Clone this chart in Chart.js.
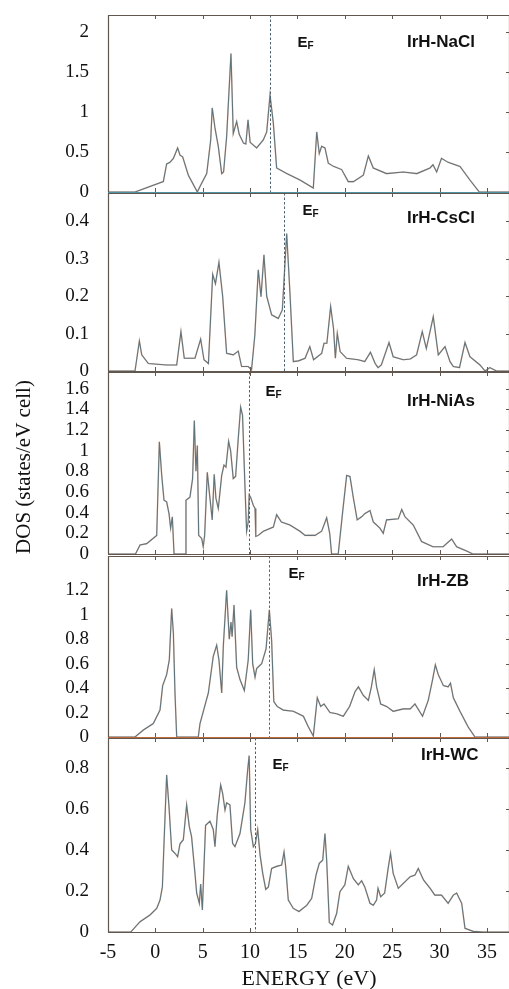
<!DOCTYPE html>
<html>
<head>
<meta charset="utf-8">
<script src="https://cdn.jsdelivr.net/npm/chart.js@4.4.1/dist/chart.umd.min.js"></script>
<style>
  html, body { margin: 0; padding: 0; background: #fff; overflow: hidden; width: 509px; height: 989px; }
  canvas { position: absolute; left: 0; }
</style>
</head>
<body>
<canvas id="c1"></canvas>
<canvas id="c2"></canvas>
<canvas id="c3"></canvas>
<canvas id="c4"></canvas>
<canvas id="c5"></canvas>
<script>
// ─────────────────────────────────────────────
//  Data (energy in eV, DOS in states/eV cell)
// ─────────────────────────────────────────────
const X_TICKS = [-5, 0, 5, 10, 15, 20, 25, 30, 35];

const NACL_E = [
  -5, -2.15, 0.84, 1.19, 1.54, 1.9, 2.35, 2.6, 2.88, 3.48,
  4.43, 4.71, 5.42, 5.84, 6.0, 6.29, 6.64, 7.0, 7.2, 7.52,
  7.98, 8.22, 8.58, 8.85, 9.3, 9.55, 9.78, 10.0, 10.69, 11.39,
  11.75, 12.1, 12.45, 12.8, 13.86, 15.26, 16.67, 17.03, 17.3, 17.55,
  17.9, 18.25, 18.8, 19.66, 20.36, 20.9, 21.95, 22.48, 23.0, 24.4,
  26.17, 27.6, 28.98, 29.3, 29.69, 30.2, 30.9, 32.15, 33.2, 34.19,
  37.5];
const NACL_D = [
  0, 0, 0.13, 0.35, 0.37, 0.42, 0.55, 0.46, 0.44, 0.21,
  0, 0.07, 0.23, 0.65, 1.05, 0.8, 0.57, 0.23, 0.25, 0.69,
  1.73, 0.73, 0.88, 0.72, 0.61, 0.60, 0.9, 0.62, 0.55, 0.65,
  0.75, 1.21, 0.86, 0.3, 0.23, 0.15, 0.05, 0.75, 0.48, 0.57,
  0.55, 0.36, 0.32, 0.28, 0.13, 0.13, 0.21, 0.45, 0.3, 0.23,
  0.25, 0.23, 0.3, 0.34, 0.25, 0.42, 0.37, 0.32, 0.15, 0,
  0];
const NACL_EF = 12.1;
const NACL_TICKS = [0, 0.5, 1, 1.5, 2];

const CSCL_E = [
  -5, -2.15, -1.69, -1.44, -0.74, 1.19, 2.25, 2.7, 3.05, 4.18,
  4.78, 5.13, 5.6, 6.05, 6.34, 6.71, 7.1, 7.52, 8.22, 8.75,
  9.1, 9.8, 10.15, 10.5, 10.86, 11.15, 11.46, 11.75, 12.27, 12.97,
  13.4, 13.86, 14.2, 14.56, 15.1, 15.8, 16.3, 16.7, 17.55, 17.8,
  18.1, 18.5, 18.8, 19.0, 19.2, 19.5, 20.18, 21.4, 22.1, 22.7,
  23.2, 23.5, 23.85, 24.66, 25.1, 26.17, 26.9, 27.57, 28.17, 28.6,
  29.33, 29.86, 30.57, 31.1, 31.45, 32.1, 32.68, 33.2, 34.26, 34.8,
  35.3, 36.0, 37.5];
const CSCL_D = [
  0, 0, 0.08, 0.043, 0.02, 0.016, 0.016, 0.105, 0.034, 0.034,
  0.085, 0.03, 0.02, 0.258, 0.233, 0.29, 0.2, 0.047, 0.043, 0.053,
  0.012, 0.012, 0.003, 0.096, 0.27, 0.198, 0.31, 0.2, 0.15, 0.14,
  0.163, 0.367, 0.21, 0.025, 0.027, 0.034, 0.065, 0.03, 0.047, 0.074,
  0.074, 0.172, 0.114, 0.034, 0.1, 0.052, 0.034, 0.03, 0.025, 0.05,
  0.02, 0.009, 0.016, 0.076, 0.038, 0.03, 0.032, 0.043, 0.105, 0.06,
  0.145, 0.043, 0.065, 0.025, 0.012, 0.009, 0.076, 0.038, 0.016, 0,
  0.009, 0, 0];
const CSCL_EF = 13.58;
const CSCL_TICKS = [0, 0.1, 0.2, 0.3, 0.4];

const NIAS_E = [
  -5, -2.1, -1.62, -0.92, 0.14, 0.42, 0.67, 0.91, 1.19, 1.44,
  1.61, 1.79, 1.97, 3.13, 3.23, 3.65, 3.93, 4.11, 4.28, 4.43,
  4.57, 4.89, 5.05, 5.2, 5.48, 5.76, 6.0, 6.21, 6.39, 6.64,
  7.0, 7.24, 7.45, 7.73, 7.94, 8.22, 8.47, 8.75, 9.0, 9.2,
  9.45, 9.63, 9.8, 9.9, 10.05, 10.34, 10.52, 10.6, 10.86, 11.4,
  12.45, 12.8, 13.3, 14.2, 15.26, 15.8, 16.85, 17.55, 18.08, 18.4,
  18.6, 19.3, 19.77, 20.19, 20.54, 20.9, 21.3, 21.77, 22.1, 22.65,
  23.0, 23.7, 24.05, 24.4, 25.64, 26.0, 26.35, 27.22, 28.1, 29.3,
  30.37, 31.27, 31.8, 32.85, 33.5, 37.5];
const NIAS_D = [
  0, 0, 0.087, 0.1, 0.18, 1.085, 0.76, 0.52, 0.505, 0.39,
  0.25, 0.36, 0, 0, 0.52, 0.55, 0.73, 1.29, 0.8, 1.05,
  0.18, 0.15, 0.07, 0.18, 0.79, 0.54, 0.33, 0.77, 0.54, 0.44,
  0.76, 0.86, 0.84, 1.09, 1.0, 0.73, 0.75, 1.12, 1.42, 1.34,
  0.67, 0.22, 0.31, 0.57, 0.55, 0.47, 0.44, 0.17, 0.18, 0.22,
  0.26, 0.38, 0.31, 0.28, 0.22, 0.18, 0.18, 0.22, 0.35, 0.2,
  0, 0, 0.41, 0.76, 0.75, 0.54, 0.33, 0.36, 0.39, 0.42,
  0.31, 0.25, 0.2, 0.33, 0.34, 0.43, 0.36, 0.28, 0.12, 0.07,
  0.07, 0.145, 0.07, 0.03, 0, 0];
const NIAS_EF = 9.88;
const NIAS_TICKS = [0, 0.2, 0.4, 0.6, 0.8, 1, 1.2, 1.4, 1.6];

const ZB_E = [
  -5, -2.15, -1.27, -0.22, 0.49, 0.77, 1.19, 1.47, 1.72, 1.9,
  2.07, 2.25, 4.53, 4.71, 5.59, 6.11, 6.47, 6.71, 7.0, 7.17,
  7.52, 7.8, 7.98, 8.1, 8.3, 8.58, 8.93, 9.39, 9.8, 10.06,
  10.27, 10.52, 10.69, 11.22, 11.68, 12.03, 12.27, 12.5, 12.85, 13.5,
  14.56, 15.62, 16.14, 16.67, 17.09, 17.45, 17.8, 18.43, 19.13, 19.83,
  20.5, 21.07, 21.43, 21.95, 22.48, 22.8, 23.1, 23.35, 23.78, 24.4,
  25.1, 26.17, 26.9, 27.4, 28.2, 28.8, 29.26, 29.55, 29.86, 30.4,
  30.9, 31.15, 31.45, 32.15, 33.0, 33.73, 37.5];
const ZB_D = [
  0, 0, 0.057, 0.11, 0.22, 0.42, 0.51, 0.63, 1.05, 0.85,
  0.36, 0, 0, 0.11, 0.36, 0.66, 0.75, 0.63, 0.36, 0.74,
  1.2, 0.8, 0.94, 0.82, 1.08, 0.57, 0.47, 0.38, 0.63, 1.04,
  0.6, 0.49, 0.56, 0.6, 0.72, 1.04, 0.79, 0.29, 0.25, 0.22,
  0.21, 0.17, 0.084, 0.008, 0.32, 0.25, 0.27, 0.2, 0.19, 0.17,
  0.25, 0.37, 0.41, 0.34, 0.3, 0.41, 0.55, 0.41, 0.27, 0.25,
  0.21, 0.23, 0.23, 0.27, 0.17, 0.3, 0.47, 0.59, 0.51, 0.42,
  0.41, 0.44, 0.32, 0.21, 0.084, 0, 0];
const ZB_EF = 11.99;
const ZB_TICKS = [0, 0.2, 0.4, 0.6, 0.8, 1, 1.2];

const WC_E = [
  -5, -2.6, -1.62, -0.57, 0.14, 0.49, 0.74, 0.91, 1.19, 1.44,
  1.72, 2.07, 2.35, 2.6, 2.95, 3.3, 3.58, 3.82, 4.18, 4.36,
  4.64, 4.78, 4.96, 5.13, 5.3, 5.76, 6.11, 6.29, 6.53, 6.89,
  7.1, 7.35, 7.52, 7.87, 8.15, 8.4, 8.93, 9.45, 9.74, 9.9,
  10.06, 10.34, 10.55, 10.8, 11.05, 11.33, 11.65, 11.93, 12.27, 12.8,
  13.33, 13.58, 13.75, 14.03, 14.56, 15.16, 15.97, 16.5, 16.96, 17.3,
  17.66, 17.9, 18.08, 18.36, 18.7, 19.13, 19.48, 20.0, 20.36, 20.9,
  21.42, 21.77, 22.1, 22.65, 23.0, 23.35, 23.5, 23.78, 24.2, 24.57,
  24.82, 25.1, 25.64, 26.17, 26.9, 27.4, 27.75, 28.3, 29.0, 29.5,
  30.2, 30.9, 31.45, 31.8, 32.33, 32.68, 33.55, 34.6, 37.5];
const WC_D = [
  0, 0, 0.05, 0.083, 0.115, 0.156, 0.22, 0.43, 0.766, 0.61,
  0.4, 0.384, 0.367, 0.43, 0.45, 0.62, 0.514, 0.465, 0.286, 0.19,
  0.14, 0.234, 0.107, 0.32, 0.52, 0.54, 0.5, 0.416, 0.57, 0.717,
  0.676, 0.595, 0.63, 0.62, 0.432, 0.416, 0.48, 0.63, 0.79, 0.86,
  0.5, 0.416, 0.43, 0.5, 0.376, 0.286, 0.208, 0.22, 0.31, 0.32,
  0.327, 0.39, 0.32, 0.156, 0.115, 0.1, 0.13, 0.164, 0.278, 0.335,
  0.35, 0.48, 0.35, 0.046, 0.034, 0.09, 0.197, 0.23, 0.32, 0.26,
  0.23, 0.25, 0.22, 0.14, 0.13, 0.156, 0.213, 0.172, 0.19, 0.31,
  0.384, 0.286, 0.213, 0.237, 0.27, 0.278, 0.31, 0.254, 0.213, 0.18,
  0.18, 0.14, 0.18, 0.19, 0.14, 0.018, 0.003, 0, 0];
const WC_EF = 10.51;
const WC_TICKS = [0, 0.2, 0.4, 0.6, 0.8];

// ─────────────────────────────────────────────
//  Panel layout (page pixels) + styling
// ─────────────────────────────────────────────
const X_MIN = -5, X_MAX = 37.43;
const FRAME = "#62574f";
const SERIF = "'Liberation Serif', 'Times New Roman', serif";
const SANS  = "'Liberation Sans', Arial, sans-serif";
const Y_TITLE = "DOS (states/eV cell)";

const PANELS = [
  { id: "c1", name: "IrH-NaCl", E: NACL_E, D: NACL_D, ef: NACL_EF, ticks: NACL_TICKS, yMax: 2.21,
    top: 3,   h: 201, nameX: 407, nameDy: 27, efDx: 27, efDy: 28, efColor: "#4d6272", baseColor: "#4f93a3" },
  { id: "c2", name: "IrH-CsCl", E: CSCL_E, D: CSCL_D, ef: CSCL_EF, ticks: CSCL_TICKS, yMax: 0.475,
    top: 181, h: 202, nameX: 407, nameDy: 25, efDx: 18, efDy: 18, efColor: "#4d6272", baseColor: FRAME },
  { id: "c3", name: "IrH-NiAs", E: NIAS_E, D: NIAS_D, ef: NIAS_EF, ticks: NIAS_TICKS, yMax: 1.76,
    top: 360, h: 206, nameX: 407, nameDy: 29, efDx: 16, efDy: 20, efColor: "#4d6272", baseColor: FRAME,
    yTitle: true },
  { id: "c4", name: "IrH-ZB",   E: ZB_E,   D: ZB_D,   ef: ZB_EF,   ticks: ZB_TICKS,   yMax: 1.48,
    top: 544, h: 205, nameX: 417, nameDy: 25, efDx: 19, efDy: 18, efColor: "#8a5a4c", baseColor: "#c0683e" },
  { id: "c5", name: "IrH-WC",   E: WC_E,   D: WC_D,   ef: WC_EF,   ticks: WC_TICKS,   yMax: 0.946,
    top: 726, h: 275, nameX: 421, nameDy: 17, efDx: 17, efDy: 27, efColor: "#4d6272", baseColor: FRAME },
];

// ─────────────────────────────────────────────
//  Plugin: frame, inward ticks, Fermi line, labels
// ─────────────────────────────────────────────
const deco = {
  id: "deco",
  afterDraw(chart, args, o) {
    const { ctx, chartArea: a, scales: { x, y } } = chart;
    ctx.save();

    // Fermi level (dashed)
    const xf = Math.round(x.getPixelForValue(o.ef)) + 0.5;
    ctx.strokeStyle = o.efColor;
    ctx.lineWidth = 1;
    ctx.setLineDash([2.5, 2]);
    ctx.beginPath();
    ctx.moveTo(xf, a.top);
    ctx.lineTo(xf, a.bottom);
    ctx.stroke();
    ctx.setLineDash([]);

    // inward tick marks: top, bottom, right
    ctx.strokeStyle = FRAME;
    ctx.beginPath();
    X_TICKS.forEach((v) => {
      const px = Math.round(x.getPixelForValue(v)) + 0.5;
      ctx.moveTo(px, a.top);      ctx.lineTo(px, a.top + 4);
      ctx.moveTo(px, a.bottom);   ctx.lineTo(px, a.bottom - 4);
    });
    o.ticks.forEach((v) => {
      const py = Math.round(y.getPixelForValue(v)) + 0.5;
      ctx.moveTo(a.right, py);    ctx.lineTo(a.right - 4, py);
    });
    ctx.stroke();

    // frame
    ctx.lineWidth = 1.2;
    ctx.beginPath();
    ctx.moveTo(a.left + 0.5, a.bottom);
    ctx.lineTo(a.left + 0.5, a.top + 0.5);
    ctx.lineTo(a.right - 0.5, a.top + 0.5);
    ctx.lineTo(a.right - 0.5, a.bottom);
    ctx.stroke();
    ctx.strokeStyle = o.baseColor;
    ctx.beginPath();
    ctx.moveTo(a.left, a.bottom + 0.5);
    ctx.lineTo(a.right, a.bottom + 0.5);
    ctx.stroke();

    // panel name
    ctx.fillStyle = "#111";
    ctx.textBaseline = "middle";
    ctx.textAlign = "left";
    ctx.font = "bold 17px " + SANS;
    ctx.fillText(o.name, o.nameX, a.top + o.nameDy);

    // E_F label
    const ex = xf + o.efDx, ey = a.top + o.efDy;
    ctx.font = "bold 15px " + SANS;
    ctx.fillText("E", ex, ey);
    const w = ctx.measureText("E").width;
    ctx.font = "bold 10px " + SANS;
    ctx.fillText("F", ex + w, ey + 3);

    // shared y-axis title (drawn once, on the middle panel)
    if (o.yTitle) {
      ctx.translate(24, (a.top + a.bottom) / 2 + 4);
      ctx.rotate(-Math.PI / 2);
      ctx.textAlign = "center";
      ctx.font = "21px " + SERIF;
      ctx.fillText(Y_TITLE, 0, 0);
    }

    ctx.restore();
  },
};

// ─────────────────────────────────────────────
//  Build the five stacked panels
// ─────────────────────────────────────────────
PANELS.forEach((p, i) => {
  const last = i === PANELS.length - 1;
  const cv = document.getElementById(p.id);
  cv.width = 520;
  cv.height = p.h;
  cv.style.top = p.top + "px";

  const pts = p.E.map((e, k) => ({ x: e, y: p.D[k] }));

  new Chart(cv, {
    type: "line",
    data: {
      datasets: [
        // first dataset is painted on top
        { data: pts, borderColor: "#5f747c", borderWidth: 1.1 },
        { data: pts, borderColor: "rgba(214,128,80,0.4)", borderWidth: 1.6 },
      ],
    },
    options: {
      responsive: false,
      animation: false,
      elements: { point: { radius: 0 }, line: { tension: 0 } },
      layout: { padding: { top: 12, bottom: last ? 0 : 12, left: 0, right: 10 } },
      plugins: {
        legend: { display: false },
        tooltip: { enabled: false },
        deco: {
          ef: p.ef, efColor: p.efColor, baseColor: p.baseColor, ticks: p.ticks, yTitle: !!p.yTitle,
          name: p.name, nameX: p.nameX, nameDy: p.nameDy, efDx: p.efDx, efDy: p.efDy,
        },
      },
      scales: {
        x: {
          type: "linear",
          min: X_MIN,
          max: X_MAX,
          display: last,
          afterBuildTicks: (s) => { s.ticks = X_TICKS.map((v) => ({ value: v })); },
          afterFit: (s) => {
            s.height = last ? 69 : 0;
            s.paddingLeft = 0; s.paddingRight = 0;
          },
          grid: { display: false, drawTicks: false },
          border: { display: false },
          ticks: {
            padding: 9, color: "#111", autoSkip: false, maxRotation: 0,
            font: { family: SERIF, size: 20 },
            callback: (v) => String(v),
          },
          title: {
            display: true, text: "ENERGY (eV)", color: "#111",
            font: { family: SERIF, size: 22 }, padding: { top: 0, bottom: 9 },
          },
        },
        y: {
          min: 0,
          max: p.yMax,
          afterBuildTicks: (s) => { s.ticks = p.ticks.map((v) => ({ value: v })); },
          afterFit: (s) => {
            s.width = 108;
            s.paddingTop = 0; s.paddingBottom = 0;
          },
          grid: { display: false, drawTicks: false },
          border: { display: false },
          ticks: {
            padding: 19, color: "#111", autoSkip: false,
            font: { family: SERIF, size: 19 },
            callback: (v) => String(v),
          },
        },
      },
    },
    plugins: [deco],
  });
});
</script>
</body>
</html>
